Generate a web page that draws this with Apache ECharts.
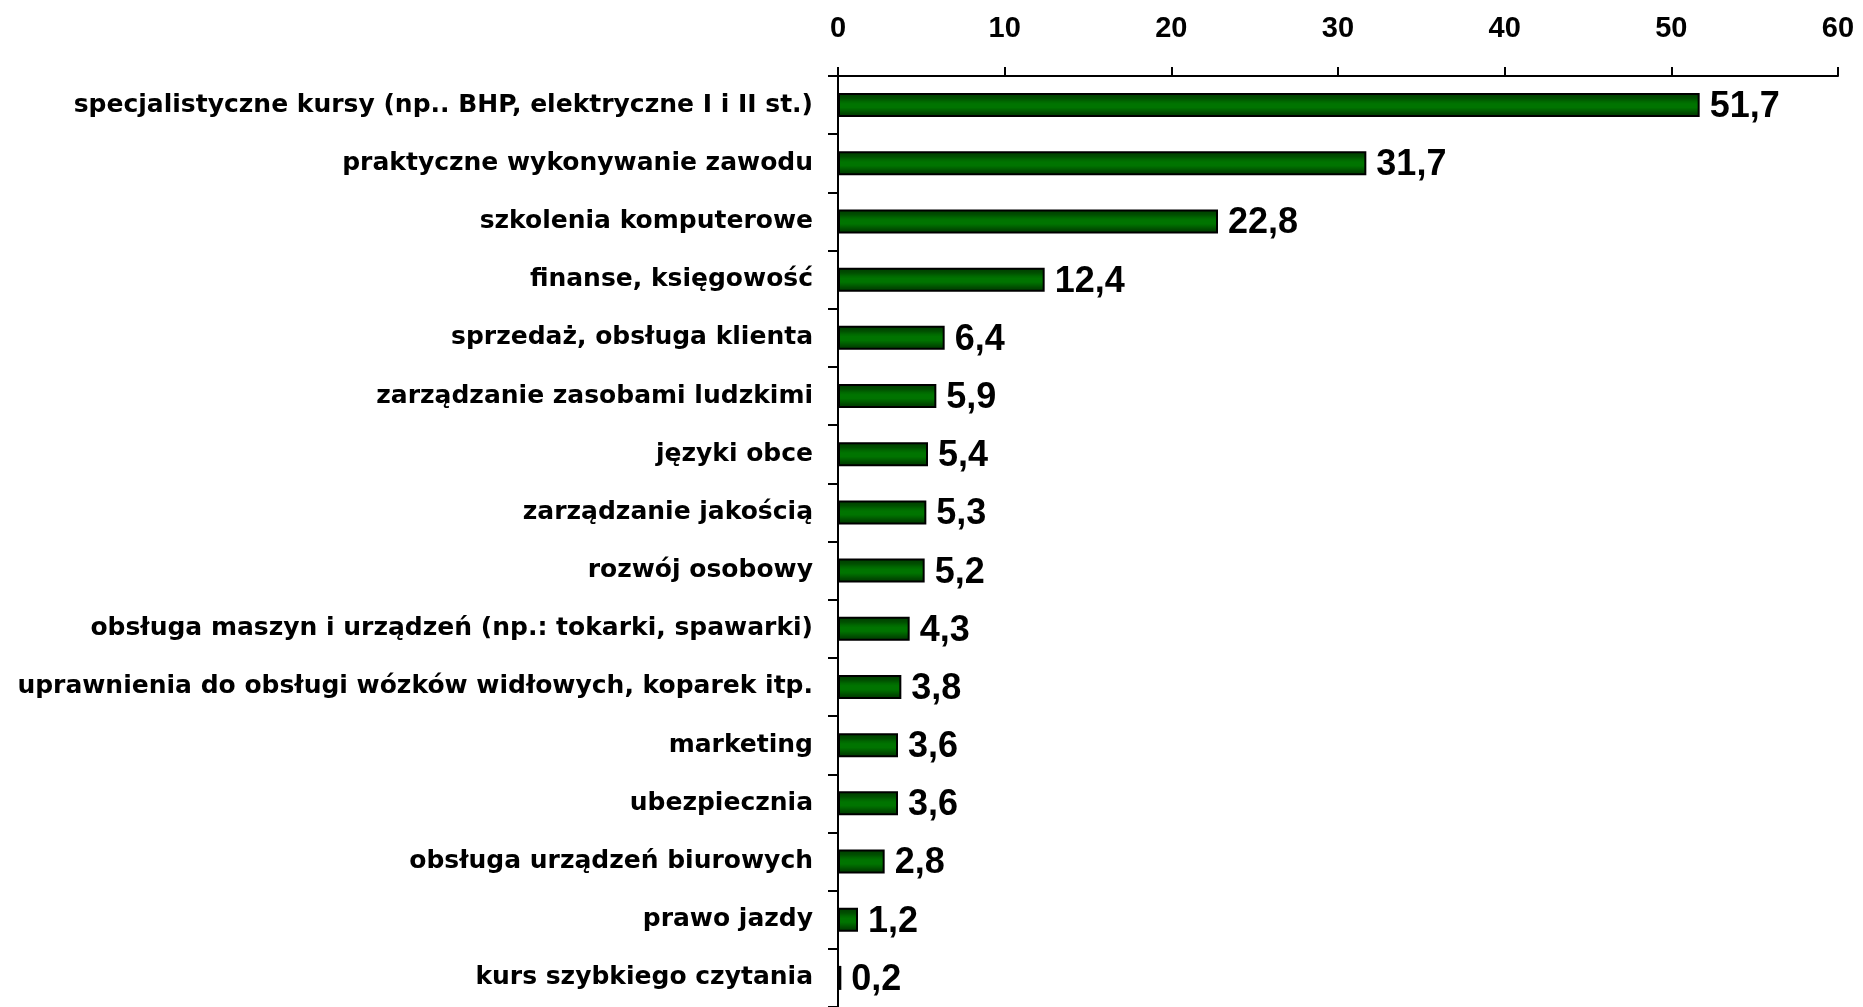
<!DOCTYPE html>
<html><head><meta charset="utf-8">
<script src="https://cdn.jsdelivr.net/npm/echarts@6/dist/echarts.min.js"></script>
<style>html,body{margin:0;padding:0;background:#fff}#c{width:1863px;height:1007px}</style>
</head><body><div id="c"></div>
<script>
const categories = [
  "specjalistyczne kursy (np.. BHP, elektryczne I i II st.)",
  "praktyczne wykonywanie zawodu",
  "szkolenia komputerowe",
  "finanse, księgowość",
  "sprzedaż, obsługa klienta",
  "zarządzanie zasobami ludzkimi",
  "języki obce",
  "zarządzanie jakością",
  "rozwój osobowy",
  "obsługa maszyn i urządzeń (np.: tokarki, spawarki)",
  "uprawnienia do obsługi wózków widłowych, koparek itp.",
  "marketing",
  "ubezpiecznia",
  "obsługa urządzeń biurowych",
  "prawo jazdy",
  "kurs szybkiego czytania"
];
const values = [51.7, 31.7, 22.8, 12.4, 6.4, 5.9, 5.4, 5.3, 5.2, 4.3, 3.8, 3.6, 3.6, 2.8, 1.2, 0.2];
const xTicks = [0, 10, 20, 30, 40, 50, 60];

const chart = echarts.init(document.getElementById('c'));
const FONT = '"Liberation Sans", Arial, sans-serif';
const CATFONT = '"DejaVu Sans", sans-serif';
chart.setOption({
  animation: false,
  backgroundColor: '#ffffff',
  grid: { left: 838, right: 25, top: 76, bottom: -6.6, containLabel: false },
  xAxis: {
    type: 'value', position: 'top',
    min: xTicks[0], max: xTicks[xTicks.length - 1], interval: 10,
    axisLine: { show: true, lineStyle: { color: '#000', width: 2 } },
    axisTick: { show: true, inside: false, length: 9, lineStyle: { color: '#000', width: 2 } },
    splitLine: { show: false },
    axisLabel: { fontFamily: FONT, fontWeight: 'bold', fontSize: 29, color: '#000', margin: 33 }
  },
  yAxis: {
    type: 'category', inverse: true, data: categories,
    axisLine: { show: true, lineStyle: { color: '#000', width: 2 } },
    axisTick: { show: true, inside: false, length: 10, lineStyle: { color: '#000', width: 2 } },
    axisLabel: { fontFamily: CATFONT, fontWeight: 'bold', fontSize: 25, color: '#000', margin: 25 }
  },
  series: [{
    type: 'bar', data: values, barWidth: 24,
    itemStyle: {
      borderColor: '#000', borderWidth: 2,
      color: new echarts.graphic.LinearGradient(0, 0, 0, 1, [
        { offset: 0, color: '#003a00' },
        { offset: 0.22, color: '#004f00' },
        { offset: 0.35, color: '#006800' },
        { offset: 0.45, color: '#007400' },
        { offset: 0.6, color: '#007400' },
        { offset: 0.72, color: '#006000' },
        { offset: 0.85, color: '#004800' },
        { offset: 1, color: '#003a00' }
      ])
    },
    label: {
      show: true, position: 'right', distance: 10, offset: [0, 2],
      fontFamily: FONT, fontWeight: 'bold', fontSize: 36, color: '#000',
      formatter: p => String(p.value).replace('.', ',')
    }
  }]
});
</script></body></html>
